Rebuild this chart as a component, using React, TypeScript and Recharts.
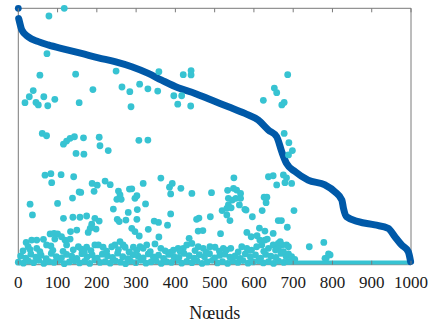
import { ComposedChart, Scatter, Line, XAxis, YAxis, ReferenceArea, Label } from 'recharts';

type Pt = [number, number];

const X_TICKS = [0, 100, 200, 300, 400, 500, 600, 700, 800, 900, 1000];

// sorted node values (dark blue)
const BLUE_START: Pt[] = [[0, 100]];
const BLUE_CURVE: Pt[] = [
  [1, 96], [2, 95.4], [9, 91.5], [25, 88.9], [51, 87], [76, 85.7], [119, 84], [161, 82.4],
  [204, 80.7], [246, 79.2], [289, 77.2], [331, 74.6], [365, 72], [407, 69], [450, 66.8],
  [492, 64.2], [535, 61.6], [577, 59], [611, 56.4], [637, 52.5], [658, 49.9], [671, 44],
  [683, 39.5], [705, 36.3], [738, 33], [781, 31.1], [806, 28.5], [824, 25.2], [828, 22],
  [836, 18.7], [866, 16.8], [908, 15.5], [942, 14.2], [959, 10.9], [976, 7.7], [993, 5.1],
  [999, 1.2],
];

// scattered node values (cyan)
const CYAN_HIGH: Pt[] = [
  [117, 100], [78, 97], [73, 82.3], [55, 73.9], [146, 74.3], [249, 75.5], [38, 67.9], [28, 65.5],
  [65, 65.5], [17, 63.2], [45, 63.3], [51, 62.3], [75, 62], [93, 64.5], [155, 63.2], [190, 68.3],
  [264, 69.3], [284, 67.5], [287, 61.6], [309, 70.4], [330, 68.6], [358, 75.3], [355, 67.7],
  [420, 74.1], [440, 75.7], [440, 74], [396, 65.9], [416, 65.9], [406, 62.6], [439, 61.9],
  [652, 68.9], [658, 67.1], [624, 64.1], [671, 62.3], [677, 63.3], [686, 74.1], [677, 51.2],
];
const CYAN_MID: Pt[] = [
  [61, 51.2], [72, 50.3], [115, 47], [123, 48.2], [132, 49.3], [143, 49.9], [166, 49.5], [147, 43.4],
  [167, 43.1], [206, 49.7], [208, 46.4], [229, 44.5], [307, 48.5], [330, 48.6],
  [68, 34.9], [83, 35.5], [85, 32], [109, 35.1], [141, 34.3], [30, 23.6], [36, 19.4], [100, 23.9],
  [138, 26], [155, 28.4], [159, 28.2], [188, 31.7], [201, 31], [193, 28.6], [221, 32.6], [234, 31.2],
  [255, 28.7], [259, 27.2], [251, 25.5], [262, 25.5], [283, 29.5], [289, 29.6], [297, 25.9],
  [302, 26.9], [318, 31.7], [324, 23.7], [242, 21.7], [280, 20.4], [303, 21.5],
  [363, 33.8], [385, 30.2], [392, 31.7], [388, 27.6], [414, 29.8], [442, 27.8], [492, 28.1],
  [533, 29], [549, 33.9], [548, 29.8], [556, 29.1], [566, 27.8], [535, 25.9], [545, 25.2],
  [554, 25.9], [566, 25.9], [535, 23.3], [563, 23.3], [519, 21.1], [531, 22], [542, 22.2],
  [577, 21.6], [580, 21.3], [621, 21.1], [626, 26.3], [633, 26.3], [631, 24.2], [637, 34.3],
  [649, 34.7], [658, 31.1], [689, 47.6], [698, 44.5], [688, 42.8], [675, 35], [683, 33.9],
  [679, 32], [696, 31.7], [702, 21.1],
];
const CYAN_LOW: Pt[] = [
  [115, 18.1], [139, 18.5], [157, 18.5], [174, 19], [195, 18.1], [206, 17], [187, 15.8], [183, 14.2],
  [178, 12.6], [198, 13.9], [133, 12.9], [149, 13.5], [252, 17.7], [257, 16.8], [274, 17.4],
  [302, 17.7], [289, 14.2], [297, 12.9], [308, 11.2], [331, 13.8], [531, 19.4], [539, 17.2],
  [596, 18.7], [662, 17.2], [670, 17.2], [388, 19.8], [346, 17], [357, 16.5], [380, 15.4],
  [454, 17.7], [460, 18.2], [489, 18.7], [458, 13.1], [470, 13.3], [358, 10.8], [435, 10.3],
  [515, 12.1], [582, 12.6], [593, 10.9], [608, 11.3], [614, 14.3], [628, 13.1], [634, 10],
  [649, 12.2], [685, 14.6], [741, 7], [778, 8.7], [794, 3.8], [784, 2.5],
];
const CYAN_BAND: Pt[] = [
  [81, 12], [91, 12.2], [100, 12], [64, 9.9], [20, 8.7], [34, 9.6], [47, 9.6], [93, 10], [110, 10.9],
  [119, 9.6], [132, 10], [123, 7.7], [72, 7.7], [83, 7.3], [25, 7], [47, 6.4], [153, 7], [161, 6.1],
  [174, 6.8], [195, 7.7], [204, 7.7], [216, 6.8], [238, 7], [246, 7.7], [259, 9], [267, 7.7],
  [272, 6.8], [293, 6.8], [310, 7], [318, 6.4], [327, 7.7], [348, 8.1], [363, 6.4], [395, 5.7],
  [407, 6.4], [420, 6.4], [429, 7.7], [442, 8.3], [458, 7], [471, 6.4], [488, 7], [501, 6.8],
  [522, 6.4], [530, 5.7], [541, 6.4], [569, 7], [582, 6.4], [594, 5.7], [607, 7], [620, 7.7],
  [637, 6.4], [649, 7.7], [662, 8.3], [615, 9.6], [628, 9.6], [667, 9], [671, 7.7], [683, 7.7],
  [688, 7], [662, 6.4], [675, 5.1], [688, 4.2], [696, 3.1], [704, 2.1], [781, 2.5], [790, 4.2],
  [12, 5.4], [30, 5.9], [55, 5.1], [88, 5.6], [114, 5.2], [140, 5.8], [168, 4.9], [185, 5.5],
  [225, 5.3], [255, 5.9], [282, 5], [302, 5.6], [336, 5.1], [374, 5.4], [386, 4.8], [412, 5.2],
  [450, 5.5], [478, 4.9], [512, 5.3], [560, 5], [588, 5.6], [625, 5.2], [655, 5.7],
];
const CYAN_FLOOR: Pt[] = [
  [0, 1], [13, 0.6], [26, 1.4], [39, 0.8], [52, 1.7], [65, 0.5], [78, 1.2], [91, 0.9], [104, 1.6],
  [117, 0.4], [130, 1.1], [143, 1.5], [156, 0.7], [169, 1.3], [182, 0.5], [195, 1.8], [208, 0.9],
  [221, 1.2], [234, 0.6], [247, 1.5], [260, 1], [273, 0.4], [286, 1.4], [299, 0.8], [312, 1.7],
  [325, 0.6], [338, 1.1], [351, 1.5], [364, 0.5], [377, 1.2], [390, 0.9], [403, 1.6], [416, 0.6],
  [429, 1.3], [442, 0.8], [455, 1.5], [468, 0.5], [481, 1.1], [494, 1.7], [507, 0.7], [520, 1.2],
  [533, 0.5], [546, 1.4], [559, 0.9], [572, 1.6], [585, 0.6], [598, 1.1], [611, 1.5], [624, 0.7],
  [637, 1.2], [650, 0.5], [663, 1.4], [676, 0.9], [689, 1.2],
  [6, 3.4], [19, 2.6], [32, 4.1], [45, 2.9], [58, 3.7], [71, 2.4], [84, 4.4], [97, 3.1], [110, 2.7],
  [123, 4], [136, 3.3], [149, 2.5], [162, 4.3], [175, 3], [188, 3.8], [201, 2.6], [214, 4.1],
  [227, 3.4], [240, 2.8], [253, 4.5], [266, 3.1], [279, 2.4], [292, 3.9], [305, 3.3], [318, 2.7],
  [331, 4.2], [344, 3], [357, 3.7], [370, 2.5], [383, 4], [396, 3.2], [409, 2.8], [422, 4.4],
  [435, 3.5], [448, 2.6], [461, 3.9], [474, 3.1], [487, 4.3], [500, 2.7], [513, 3.6], [526, 4.1],
  [539, 2.9], [552, 3.4], [565, 2.5], [578, 4.2], [591, 3], [604, 3.8], [617, 2.6], [630, 4],
  [643, 3.3], [656, 2.8], [669, 4.4], [682, 3.2],
];
// nodes with (almost) zero value after ~690
const CYAN_TAIL: Pt[] = [[692, 0.9], [1000, 0.9]];

const BLUE = '#0059a8';
const CYAN = '#37c3d2';
const FRAME = '#7a7a7a';
const FONT = '"Liberation Serif", "DejaVu Serif", serif';
const PLOT_H = 256.4;

const toObj = (pts: Pt[]) => pts.map(([x, y]) => ({ x, y }));
const cyanAll = toObj([...CYAN_FLOOR, ...CYAN_BAND, ...CYAN_LOW, ...CYAN_MID, ...CYAN_HIGH]);

const Dot = (color: string, r: number) => (p: any) =>
  <circle cx={p.cx} cy={p.cy} r={r} fill={color} />;

function Tick({ x, y, payload }: any) {
  return (
    <g>
      <line x1={x} x2={x} y1={y} y2={y - 4} stroke={FRAME} />
      <line x1={x} x2={x} y1={y - PLOT_H} y2={y - PLOT_H + 4} stroke={FRAME} />
      <text x={x} y={y + 23.5} textAnchor="middle" style={{ fontFamily: FONT, fontSize: 17 }} fill="#1a1a1a">
        {payload.value}
      </text>
    </g>
  );
}

export default function App() {
  return (
    <div style={{ position: 'absolute', left: 0, top: 0, width: 433, height: 329, background: '#fff', fontFamily: FONT }}>
      <ComposedChart width={433} height={329} margin={{ top: 8.3, right: 22, bottom: 0, left: 18.3 }}>
        <XAxis
          dataKey="x"
          type="number"
          domain={[0, 1000]}
          ticks={X_TICKS}
          height={64.3}
          axisLine={false}
          tickLine={false}
          tickSize={0}
          tickMargin={0}
          tick={<Tick />}
          interval={0}
        >
          <Label
            value="Nœuds"
            position="insideBottom"
            offset={10}
            style={{ fontFamily: FONT, fontSize: 18 }}
            fill="#1a1a1a"
          />
        </XAxis>
        <YAxis dataKey="y" type="number" domain={[0, 100]} hide />
        <ReferenceArea x1={0} x2={1000} y1={0} y2={100} fill="none" stroke={FRAME} strokeWidth={1} />
        <Scatter data={cyanAll} shape={Dot(CYAN, 3.4)} isAnimationActive={false} />
        <Line
          data={toObj(CYAN_TAIL)}
          dataKey="y"
          stroke={CYAN}
          strokeWidth={4}
          dot={false}
          isAnimationActive={false}
        />
        <Line
          data={toObj(BLUE_CURVE)}
          dataKey="y"
          type="monotone"
          stroke={BLUE}
          strokeWidth={7}
          strokeLinecap="round"
          strokeLinejoin="round"
          dot={false}
          isAnimationActive={false}
        />
        <Scatter data={toObj(BLUE_START)} shape={Dot(BLUE, 3.4)} isAnimationActive={false} />
      </ComposedChart>
    </div>
  );
}
